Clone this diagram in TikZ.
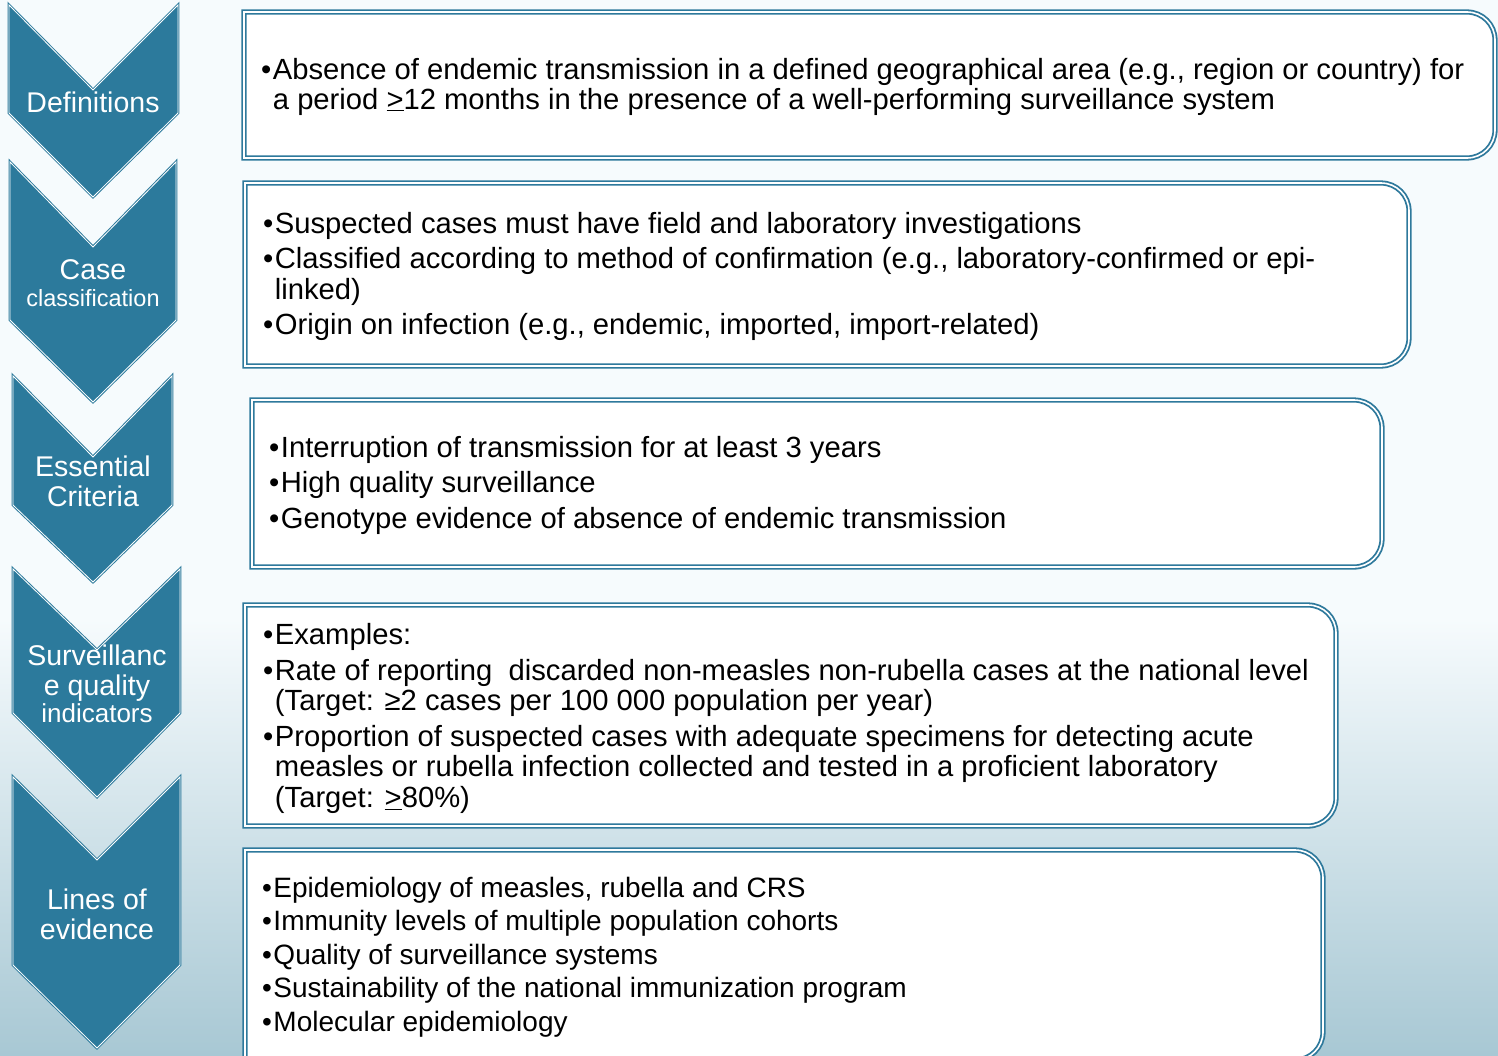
\documentclass[tikz,border=0pt]{standalone}
\usepackage{fontspec}
\setmainfont{Liberation Sans}
\usepackage{xcolor}
\usetikzlibrary{shapes,arrows}
\definecolor{chevblue}{RGB}{44,122,156}
\definecolor{lineblue}{RGB}{46,121,156}
\definecolor{bgtop}{RGB}{246,251,253}
\definecolor{bgbot}{RGB}{168,200,212}
\tikzstyle{chevron} = [draw=chevblue, fill=chevblue, line width=1pt, double=white, double distance=0.8pt]
\tikzstyle{infobox} = [draw=lineblue, fill=white, line width=1.8pt, double=white, double distance=1.6pt]
\tikzstyle{steplabel} = [text=white, align=center, inner sep=0pt, font=\fontsize{28.5}{30}\selectfont]
\tikzstyle{boxtext} = [anchor=base west, inner sep=0pt, text=black, font=\fontsize{29.2}{30}\selectfont]

\begin{document}
\begin{tikzpicture}[x=1pt, y=-1pt]
            \useasboundingbox (0,0) rectangle (1498,1055);
            \fill[bgtop] (0,0) rectangle (1498,620);
            \shade[top color=bgtop, bottom color=bgbot] (0,619) rectangle (1498,1055);
            
            % chevrons down the left side
            \draw[chevron] (9,5) -- (93,90) -- (178,5) -- (178,113) -- (93,197) -- (9,113) -- cycle;
            \draw[chevron] (10,162) -- (93,247) -- (176,162) -- (176,320) -- (93,402) -- (10,320) -- cycle;
            \draw[chevron] (13,376) -- (93,457) -- (172,376) -- (172,505) -- (93,582) -- (13,505) -- cycle;
            \draw[chevron] (13,569) -- (97,650) -- (180,569) -- (180,713) -- (97,797) -- (13,713) -- cycle;
            \draw[chevron] (13,777) -- (97,860) -- (180,777) -- (180,965) -- (97,1048) -- (13,965) -- cycle;
            
            \node[steplabel] (defLabel) at (93,102) {Definitions};
            \node[steplabel] (caseLabel) at (93,283) {Case\\[-3pt]{\fontsize{23.5}{26}\selectfont classification}};
            \node[steplabel] (critLabel) at (93,481) {Essential\\Criteria};
            \node[steplabel] (survLabel) at (97,684) {Surveillanc\\e quality\\[-3pt]{\fontsize{26}{27}\selectfont indicators}};
            \node[steplabel] (evidLabel) at (97,914) {Lines of\\evidence};
            
            % boxes: square on the left, rounded on the right
            \begin{scope}
            \clip (0,0) rectangle (1498,1055);
            \draw[infobox] (244,12) -- (800,12) [rounded corners=28pt] -- (1495,12) -- (1495,158) -- (800,158) [sharp corners] -- (244,158) -- cycle;
            \draw[infobox] (245,183) -- (800,183) [rounded corners=28pt] -- (1409,183) -- (1409,366) -- (800,366) [sharp corners] -- (245,366) -- cycle;
            \draw[infobox] (252,400) -- (800,400) [rounded corners=28pt] -- (1382,400) -- (1382,567) -- (800,567) [sharp corners] -- (252,567) -- cycle;
            \draw[infobox] (245,605) -- (800,605) [rounded corners=28pt] -- (1336,605) -- (1336,826) -- (800,826) [sharp corners] -- (245,826) -- cycle;
            \draw[infobox] (245,850) -- (800,850) [rounded corners=28pt] -- (1323,850) -- (1323,1060) -- (800,1060) [sharp corners] -- (245,1060) -- cycle;
            \end{scope}
            
            \node[boxtext] (defText) at (261,79) {\begin{tabular}[t]{@{}l@{\hspace{1.5pt}}l@{}}
                •&Absence of endemic transmission in a defined geographical area (e.g., region or country) for\\
                &a period \underline{>}12 months in the presence of a well-performing surveillance system
            \end{tabular}};
            \node[boxtext] (caseText) at (263,233) {\begin{tabular}[t]{@{}l@{\hspace{1.5pt}}l@{}}
                •&Suspected cases must have field and laboratory investigations\\[5pt]
                •&Classified according to method of confirmation (e.g., laboratory-confirmed or epi-\\[1pt]
                &linked)\\[5pt]
                •&Origin on infection (e.g., endemic, imported, import-related)
            \end{tabular}};
            \node[boxtext] (critText) at (269,457) {\begin{tabular}[t]{@{}l@{\hspace{1.5pt}}l@{}}
                •&Interruption of transmission for at least 3 years\\[5pt]
                •&High quality surveillance\\[6pt]
                •&Genotype evidence of absence of endemic transmission
            \end{tabular}};
            \node[boxtext] (survText) at (263,644) {\begin{tabular}[t]{@{}l@{\hspace{1.5pt}}l@{}}
                •&Examples:\\[6pt]
                •&Rate of reporting\ \ discarded non-measles non-rubella cases at the national level\\
                &(Target: ≥2 cases per 100 000 population per year)\\[6pt]
                •&Proportion of suspected cases with adequate specimens for detecting acute\\
                &measles or rubella infection collected and tested in a proficient laboratory\\[1pt]
                &(Target: \underline{>}80\%)
            \end{tabular}};
            \node[boxtext, font=\fontsize{28}{30}\selectfont] (evidText) at (262,897) {\begin{tabular}[t]{@{}l@{\hspace{1.5pt}}l@{}}
                •&Epidemiology of measles, rubella and CRS\\[3.5pt]
                •&Immunity levels of multiple population cohorts\\[3.5pt]
                •&Quality of surveillance systems\\[3.5pt]
                •&Sustainability of the national immunization program\\[3.5pt]
                •&Molecular epidemiology
            \end{tabular}};
        \end{tikzpicture}
\end{document}
